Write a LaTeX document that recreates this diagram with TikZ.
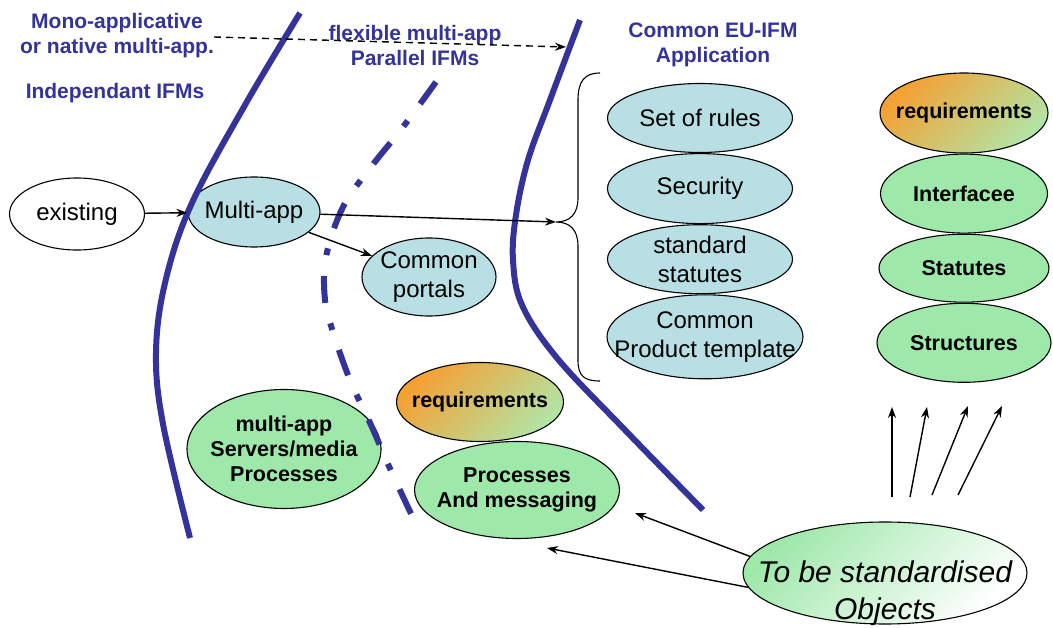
\documentclass[tikz,border=0pt]{standalone}
\usepackage{fontspec}
\setmainfont{Liberation Sans}
\usetikzlibrary{arrows.meta,positioning,shapes.geometric}

\definecolor{ifmblue}{RGB}{51,51,153}
\definecolor{appcyan}{RGB}{184,224,228}
\definecolor{objgreen}{RGB}{158,232,170}
\definecolor{reqorange}{RGB}{245,160,50}
\definecolor{reqgreen}{RGB}{178,228,165}

\begin{document}
\begin{tikzpicture}[
    x=1pt, y=-1pt,
    oval/.style={ellipse, draw, line width=1.1pt, inner sep=0pt},
    app/.style={oval, fill=appcyan},
    obj/.style={oval, fill=objgreen},
    req/.style={oval, top color=reqorange, bottom color=reqgreen, shading angle=45},
    tbs/.style={oval, top color=objgreen, bottom color=white, shading angle=45},
    txt/.style={font=\fontsize{24}{29}\selectfont, align=center},
    btxt/.style={font=\fontsize{21.5}{25}\selectfont\bfseries, align=center},
    itxt/.style={font=\fontsize{30}{37}\selectfont\itshape, align=center},
    hdr/.style={font=\fontsize{21}{25}\selectfont\bfseries, text=ifmblue, align=center},
    sep/.style={draw=ifmblue, line width=6pt},
    arrow/.style={-{Stealth[length=11pt, width=8pt]}, line width=1.4pt},
    dasharrow/.style={arrow, dash pattern=on 7pt off 5pt}
]
\useasboundingbox (0,0) rectangle (1053,628);

% Headers
\node[hdr] (mono) at (117,36) {Mono-applicative\\or native multi-app.};
\node[hdr] (indep) at (115,93) {Independant IFMs};
\node[hdr] (flex) at (415,45) {flexible multi-app\\Parallel IFMs};
\node[hdr] (eu) at (713,45) {Common EU-IFM\\Application};

% Independent IFMs
\node[oval, minimum width=135pt, minimum height=72pt, label={[txt]center:existing}] (exist) at (77,214) {};
\node[app, minimum width=132pt, minimum height=70pt, label={[txt]center:Multi-app}] (multi) at (254,212) {};
\node[app, minimum width=134pt, minimum height=78pt, label={[txt]center:Common\\portals}] (portals) at (429,277) {};
\node[obj, minimum width=194pt, minimum height=119pt, label={[btxt]center:multi-app\\Servers/media\\Processes}] (servers) at (284,449) {};

% Parallel IFMs
\node[req, minimum width=167pt, minimum height=79pt, label={[btxt]center:requirements}] (reqlow) at (480,402) {};
\node[obj, minimum width=205pt, minimum height=97pt, label={[btxt]center:Processes\\And messaging}] (pam) at (517,490) {};

% Common application
\node[app, minimum width=185pt, minimum height=69pt, label={[txt]center:Set of rules}] (rules) at (700,118) {};
\node[app, minimum width=185pt, minimum height=70pt, below=0pt of rules, label={[txt]center:Security}] (security) {};
\node[app, minimum width=185pt, minimum height=69pt, below=0pt of security, label={[txt]center:standard\\statutes}] (statutes) {};
\node[app, minimum width=196pt, minimum height=84pt, below=0pt of statutes, xshift=5pt, label={[txt]center:Common\\Product template}] (template) {};

% Objects column
\node[req, minimum width=168pt, minimum height=80pt, label={[btxt]center:requirements}] (reqtop) at (964,113) {};
\node[obj, minimum width=167pt, minimum height=79pt, below=0pt of reqtop, label={[btxt]center:Interfacee}] (iface) {};
\node[obj, minimum width=170pt, minimum height=68pt, below=0pt of iface, label={[btxt]center:Statutes}] (stat) {};
\node[obj, minimum width=174pt, minimum height=79pt, below=0pt of stat, label={[btxt]center:Structures}] (struct) {};

\node[tbs, minimum width=284pt, minimum height=102pt, label={[itxt, yshift=-20pt]center:To be standardised\\Objects}] (objects) at (885,573) {};

% Borders between the IFM kinds
\draw[sep] plot[smooth, tension=0.6] coordinates {(300,13) (245,105) (191,205) (165,283) (156,353) (163,424) (190,538)};
\draw[sep, dash pattern=on 27pt off 21pt on 7pt off 21pt] plot[smooth, tension=0.6] coordinates {(436,82) (403,127) (371,167) (343,207) (326,257) (325,300) (333,332) (350,380) (371,425) (392,473) (415,522)};
\draw[sep] plot[smooth, tension=0.6] coordinates {(580,20) (550,100) (528,160) (516,215) (513,260) (522,305) (557,358) (625,430) (703,510)};

% Brace
\coordinate (brtip) at (556,222);
\draw[line width=1.1pt] (600,73) .. controls (584,73) and (578,82) .. (578,100) -- (578,198)
    .. controls (578,214) and (570,222) .. (brtip)
    .. controls (570,222) and (578,230) .. (578,246) -- (578,360)
    .. controls (578,376) and (584,381) .. (600,381);

% Arrows
\coordinate (dstart) at (214,37);
\coordinate (dend) at (566,47);
\draw[dasharrow] (dstart) -- (dend);
\draw[arrow] (exist) -- (multi);
\draw[arrow] (multi) -- (portals);
\draw[arrow] (multi) -- (brtip);

\coordinate (pamin) at (635,513);
\coordinate (pamlow) at (547,548);
\draw[arrow] (objects.173) -- (pamin);
\draw[arrow] (objects.186) -- (pamlow);

\coordinate (up1) at (892,497);
\coordinate (up2) at (910,497);
\coordinate (up3) at (932,495);
\coordinate (up4) at (958,495);
\coordinate (tip1) at (892,407);
\coordinate (tip2) at (927,407);
\coordinate (tip3) at (968,406);
\coordinate (tip4) at (1002,406);
\draw[arrow] (up1) -- (tip1);
\draw[arrow] (up2) -- (tip2);
\draw[arrow] (up3) -- (tip3);
\draw[arrow] (up4) -- (tip4);
\end{tikzpicture}
\end{document}
